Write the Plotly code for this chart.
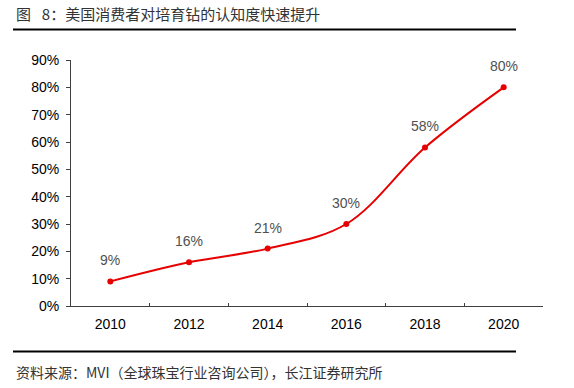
import plotly.graph_objects as go

years = ["2010", "2012", "2014", "2016", "2018", "2020"]
awareness = [0.09, 0.16, 0.21, 0.30, 0.58, 0.80]
labels = ["9%", "16%", "21%", "30%", "58%", "80%"]
y_ticks = [0, 0.1, 0.2, 0.3, 0.4, 0.5, 0.6, 0.7, 0.8, 0.9]
y_tick_text = ["0%", "10%", "20%", "30%", "40%", "50%", "60%", "70%", "80%", "90%"]

title_text = "图\u2002 8：美国消费者对培育钻的认知度快速提升"
source_text = "资料来源：MVI（全球珠宝行业咨询公司），长江证券研究所"

W, H = 574, 388
L, R, T, B = 71, 31, 60, 82
pw, ph = W - L - R, H - T - B

def px_x(px):
    return (px - L) / pw

def px_y(py):
    return (H - B - py) / ph

red = "#E60000"
font_lat = "Liberation Sans, Arial, sans-serif"
font_cjk = "Noto Sans CJK SC, sans-serif"

fig = go.Figure()
fig.add_trace(go.Scatter(
    x=years, y=awareness, mode="lines+markers",
    line=dict(color=red, width=2, shape="spline", smoothing=1),
    marker=dict(color=red, size=6),
    hoverinfo="skip", showlegend=False,
))

for i, (v, t) in enumerate(zip(awareness, labels)):
    fig.add_annotation(x=i, y=v, text=t, showarrow=False, yshift=21,
                       font=dict(family=font_lat, size=14, color="#505050"))

fig.add_annotation(xref="paper", yref="paper", x=px_x(14), y=px_y(14),
                   xanchor="left", yanchor="middle", text=title_text, showarrow=False,
                   font=dict(family=font_cjk, size=15, color="#333333"))
fig.add_annotation(xref="paper", yref="paper", x=px_x(14), y=px_y(372),
                   xanchor="left", yanchor="middle", text=source_text, showarrow=False,
                   font=dict(family=font_cjk, size=14, color="#333333"))

fig.add_shape(type="line", xref="paper", yref="paper",
              x0=px_x(13), x1=px_x(516), y0=px_y(29.5), y1=px_y(29.5),
              line=dict(color="#000000", width=2))
fig.add_shape(type="line", xref="paper", yref="paper",
              x0=px_x(13), x1=px_x(516), y0=px_y(351.5), y1=px_y(351.5),
              line=dict(color="#000000", width=2))

fig.update_layout(
    width=W, height=H,
    margin=dict(l=L, r=R, t=T, b=B, pad=0),
    paper_bgcolor="white", plot_bgcolor="white",
    font=dict(family=font_lat, size=14, color="#000000"),
    xaxis=dict(type="category", showgrid=False, showline=True, linecolor="#404040", linewidth=1,
               ticks="inside", ticklen=3, tickcolor="#404040", tickson="boundaries",
               tickfont=dict(family=font_lat, size=14, color="#000000"), ticklabelstandoff=5,
               range=[-0.5, 5.5], zeroline=False),
    yaxis=dict(range=[0, 0.9], tickvals=y_ticks, ticktext=y_tick_text, showgrid=False,
               showline=True, linecolor="#404040", linewidth=1, ticks="outside", ticklen=4,
               tickcolor="#404040", zeroline=False, ticklabelstandoff=4,
               tickfont=dict(family=font_lat, size=14, color="#000000")),
)

fig.write_html("out.html", config={"displayModeBar": False},
               post_script="document.body.style.margin='0';")
